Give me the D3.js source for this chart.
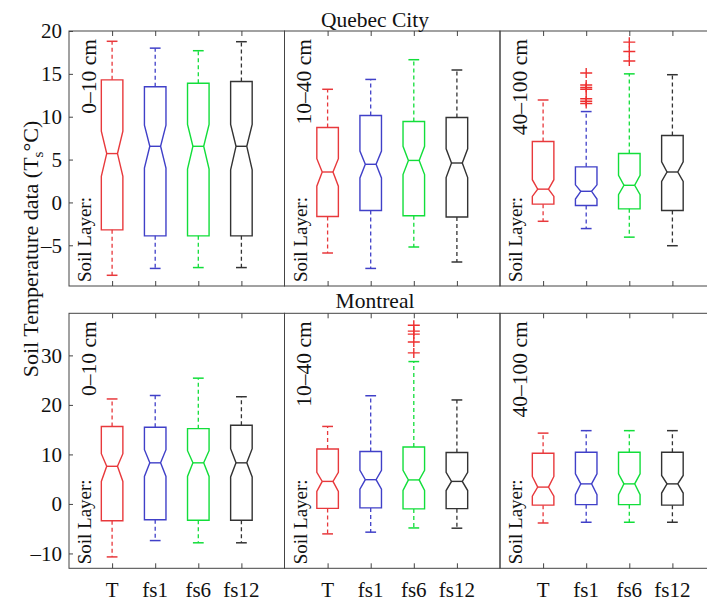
<!DOCTYPE html>
<html>
<head>
<meta charset="utf-8">
<script src="https://cdn.jsdelivr.net/npm/d3@7"></script>
<style>
  body { margin: 0; background: #fff; }
  svg text { font-family: "Liberation Serif", "DejaVu Serif", serif; }
</style>
</head>
<body>
<div id="app"></div>
<script>
// categories and panel labels
const models = ["T", "fs1", "fs6", "fs12"];
const depths = ["0–10 cm", "10–40 cm", "40–100 cm"];
const sites = ["Quebec City", "Montreal"];
const colors = ["#e8393c", "#4040c8", "#12de3a", "#333333"];

// box stats per model: [whiskerLo, q1, notchLo, median, notchHi, q3, whiskerHi]
const quebec_0_10 = [
  [-8.5, -3.2, 3.05, 5.7, 8.3, 14.3, 18.8],
  [-7.7, -3.9, 4.0, 6.55, 9.0, 13.5, 18.0],
  [-7.6, -3.9, 3.9, 6.55, 9.1, 13.9, 17.7],
  [-7.6, -3.9, 3.8, 6.55, 9.1, 14.1, 18.75]
];
const quebec_10_40 = [
  [-5.9, -1.65, 1.9, 3.55, 5.1, 8.75, 13.2],
  [-7.7, -0.95, 2.85, 4.45, 6.0, 10.15, 14.35],
  [-5.2, -1.55, 3.25, 4.9, 6.55, 9.45, 16.65],
  [-6.95, -1.7, 2.9, 4.6, 6.25, 9.9, 15.45]
];
const quebec_40_100 = [
  [-2.2, -0.2, 0.7, 1.55, 2.65, 7.1, 11.95],
  [-3.05, -0.35, 0.4, 1.3, 2.05, 4.15, 10.6],
  [-4.05, -0.75, 0.9, 2.0, 3.15, 5.7, 15.0],
  [-5.05, -0.95, 2.45, 3.55, 4.75, 7.8, 14.9]
];
const montreal_0_10 = [
  [-10.7, -3.4, 4.55, 7.6, 10.15, 15.65, 21.2],
  [-7.4, -3.2, 5.55, 8.3, 10.95, 15.5, 21.9],
  [-7.85, -3.3, 5.55, 8.3, 10.75, 15.2, 25.4],
  [-7.85, -3.3, 5.45, 8.3, 11.15, 15.9, 21.65]
];
const montreal_10_40 = [
  [-6.05, -0.9, 2.55, 4.55, 6.4, 11.1, 15.65],
  [-5.7, -0.8, 3.0, 4.9, 6.8, 10.6, 21.85],
  [-4.85, -1.0, 2.75, 4.85, 6.8, 11.5, 28.75],
  [-4.9, -0.95, 2.7, 4.55, 6.4, 10.4, 21.0]
];
const montreal_40_100 = [
  [-3.85, -0.25, 1.55, 3.4, 5.55, 10.25, 14.3],
  [-3.7, -0.15, 1.85, 4.05, 6.1, 10.45, 14.8],
  [-3.7, -0.15, 1.85, 4.05, 6.1, 10.45, 14.8],
  [-3.7, -0.25, 2.2, 4.05, 5.75, 10.45, 14.8]
];

// outliers: [row, depth, model, values]
const outliers = [
  [0, 2, 1, [11.55, 11.8, 12.1, 13.2, 13.4, 13.7, 15.1]],
  [0, 2, 2, [16.5, 17.6, 18.7]],
  [1, 1, 2, [30.5, 32.7, 34.3, 34.9, 36.1]]
];

const yTicksTop = [-5, 0, 5, 10, 15, 20];
const yTicksBot = [-10, 0, 10, 20, 30];

const stats = [
  [quebec_0_10, quebec_10_40, quebec_40_100],
  [montreal_0_10, montreal_10_40, montreal_40_100]
];

const width = 707, height = 601;
const serif = "Liberation Serif, DejaVu Serif, serif";
const svg = d3.select("#app").append("svg")
  .attr("width", width)
  .attr("height", height)
  .attr("font-family", serif);

const panelW = 215.5;
const panelLeft = i => 69 + i * panelW;

// one y scale per row
const yScales = [
  d3.scaleLinear().domain([-9.75, 20]).range([286, 31]),
  d3.scaleLinear().domain([-13, 38.5]).range([568.3, 313.3])
];
const yTicks = [yTicksTop, yTicksBot];
const frame = "#444";

sites.forEach((site, r) => {
  const y = yScales[r];
  const [yb, yt] = y.range();

  depths.forEach((depth, c) => {
    const x0 = panelLeft(c);
    const x = d3.scaleLinear().domain([0, 5]).range([x0, x0 + panelW]);
    const g = svg.append("g");

    // inner ticks top and bottom
    g.append("g")
      .attr("transform", `translate(0,${yb})`)
      .call(d3.axisBottom(x).tickValues([1, 2, 3, 4]).tickSize(-5).tickFormat(""))
      .call(a => a.select(".domain").remove())
      .call(a => a.selectAll("line").attr("stroke", frame));
    g.append("g")
      .attr("transform", `translate(0,${yt})`)
      .call(d3.axisTop(x).tickValues([1, 2, 3, 4]).tickSize(-5).tickFormat(""))
      .call(a => a.select(".domain").remove())
      .call(a => a.selectAll("line").attr("stroke", frame));

    if (c === 0) {
      g.append("g")
        .attr("transform", `translate(${x0},0)`)
        .call(d3.axisLeft(y).tickValues(yTicks[r]).tickSize(-4).tickPadding(7)
          .tickFormat(d => d < 0 ? "–" + Math.abs(d) : d))
        .attr("font-family", serif)
        .attr("font-size", 21)
        .call(a => a.select(".domain").remove())
        .call(a => a.selectAll("line").attr("stroke", frame))
        .call(a => a.selectAll("text").attr("fill", "#111"));
    }

    // boxes
    const bw = 0.25; // half box width in x units
    stats[r][c].forEach((s, i) => {
      const [lo, q1, nlo, med, nhi, q3, hi] = s;
      const cx = i + 1;
      const col = colors[i];
      const L = x(cx - bw), R = x(cx + bw);
      const Lm = x(cx - bw / 2), Rm = x(cx + bw / 2);
      const capL = x(cx - bw / 2), capR = x(cx + bw / 2);

      // whiskers
      g.append("line").attr("x1", x(cx)).attr("x2", x(cx))
        .attr("y1", y(q3)).attr("y2", y(hi))
        .attr("stroke", col).attr("stroke-width", 1.3).attr("stroke-dasharray", "4,3");
      g.append("line").attr("x1", x(cx)).attr("x2", x(cx))
        .attr("y1", y(q1)).attr("y2", y(lo))
        .attr("stroke", col).attr("stroke-width", 1.3).attr("stroke-dasharray", "4,3");
      [lo, hi].forEach(v => {
        g.append("line").attr("x1", capL).attr("x2", capR)
          .attr("y1", y(v)).attr("y2", y(v))
          .attr("stroke", col).attr("stroke-width", 1.5);
      });

      // notched box
      const pts = [
        [L, y(q1)], [L, y(nlo)], [Lm, y(med)], [L, y(nhi)], [L, y(q3)],
        [R, y(q3)], [R, y(nhi)], [Rm, y(med)], [R, y(nlo)], [R, y(q1)]
      ];
      g.append("path")
        .attr("d", d3.line()(pts) + "Z")
        .attr("fill", "none").attr("stroke", col).attr("stroke-width", 1.4);
      g.append("line").attr("x1", Lm).attr("x2", Rm)
        .attr("y1", y(med)).attr("y2", y(med))
        .attr("stroke", col).attr("stroke-width", 1.4);
    });

    // outliers
    outliers.filter(o => o[0] === r && o[1] === c).forEach(o => {
      const cx = x(o[2] + 1);
      o[3].forEach(v => {
        const py = y(v);
        g.append("path")
          .attr("d", `M${cx - 6},${py}H${cx + 6}M${cx},${py - 5}V${py + 5}`)
          .attr("stroke", "#ee3030").attr("stroke-width", 1.4).attr("fill", "none");
      });
    });

    // frame
    g.append("rect")
      .attr("x", x0).attr("y", yt)
      .attr("width", panelW).attr("height", yb - yt)
      .attr("fill", "none").attr("stroke", frame).attr("stroke-width", 1);

    // in-panel labels
    g.append("text")
      .attr("transform", `translate(${x0 + 22},${yb - 4}) rotate(-90)`)
      .attr("font-size", 19).attr("fill", "#111")
      .text("Soil Layer:");
    g.append("text")
      .attr("transform", `translate(${x0 + 26.5},${yt + 8}) rotate(-90)`)
      .attr("text-anchor", "end")
      .attr("font-size", 21.5).attr("fill", "#111")
      .text(depth);

    // model labels under the bottom row
    if (r === 1) {
      models.forEach((m, i) => {
        svg.append("text")
          .attr("x", x(i + 1)).attr("y", 597)
          .attr("text-anchor", "middle")
          .attr("font-size", 21).attr("fill", "#111")
          .text(m);
      });
    }
  });
});

// row titles
svg.append("text").attr("x", 375).attr("y", 26.5)
  .attr("text-anchor", "middle").attr("font-size", 21.5).attr("fill", "#111")
  .text(sites[0]);
svg.append("text").attr("x", 375).attr("y", 307.5)
  .attr("text-anchor", "middle").attr("font-size", 21.5).attr("fill", "#111")
  .text(sites[1]);

// y label
const ylab = svg.append("text")
  .attr("transform", "translate(38,249) rotate(-90)")
  .attr("text-anchor", "middle")
  .attr("font-size", 22).attr("fill", "#111");
ylab.append("tspan").text("Soil Temperature data  (T");
ylab.append("tspan").attr("font-size", 15).attr("dy", 5).text("s");
ylab.append("tspan").attr("dy", -5).text("°C)");
</script>
</body>
</html>
